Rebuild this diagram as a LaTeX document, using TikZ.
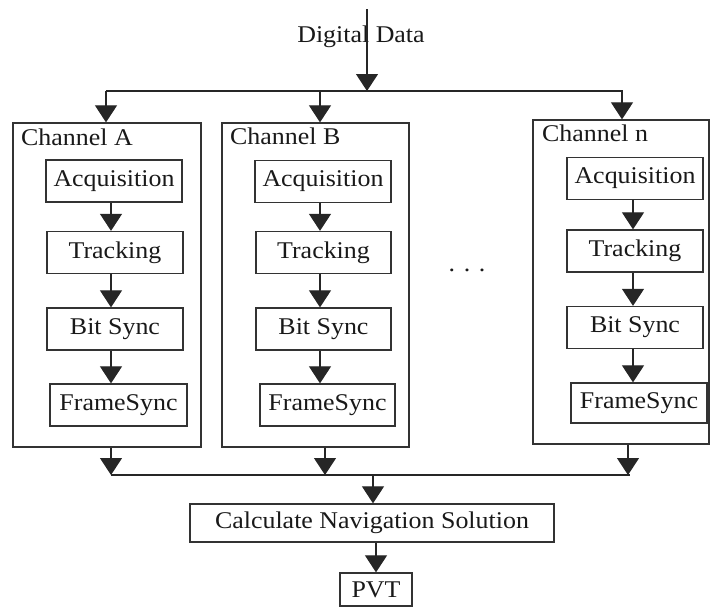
\documentclass[tikz,border=0pt]{standalone}
\usepackage{fontspec}
\setmainfont{Liberation Serif}[FakeStretch=1.08]
\usetikzlibrary{arrows.meta}
\newcommand\diagfont{\fontsize{24}{28}\selectfont}
\begin{document}
\begin{tikzpicture}[x=1pt,y=-1pt,
  wire/.style={draw=black!85, line width=1.2pt},
  arr/.style={wire, -{Triangle[width=22pt,length=17pt]}},
  chanbox/.style={draw=black!80, line width=1.3pt, inner sep=0pt},
  stage/.style={draw=black!80, line width=1.3pt, inner sep=0pt,
                minimum width=136pt, minimum height=42pt,
                font=\diagfont, text=black!90},
  caption/.style={font=\diagfont, text=black!90, inner sep=0pt},
]
\useasboundingbox (0,0) rectangle (712,608);

% input
\node[caption] (ddata) at (361,37) {Digital Data};
\coordinate (src) at (367,9);
\coordinate (tbc) at (367,91);
\draw[arr] (src) -- (tbc);

% distribution bus
\coordinate (tb1) at (106,91);
\coordinate (tb2) at (320,91);
\coordinate (tbn) at (622,91);
\draw[wire] (tb1) -- (623,91);

% channel frames
\node[chanbox, minimum width=188pt, minimum height=324pt] (chA) at (107,285) {};
\node[chanbox, minimum width=187pt, minimum height=324pt] (chB) at (315.5,285) {};
\node[chanbox, minimum width=176pt, minimum height=324pt] (chN) at (621,282) {};

\node[caption, anchor=base west] (tA) at (21,145) {Channel A};
\node[caption, anchor=base west] (tB) at (230,144) {Channel B};
\node[caption, anchor=base west] (tN) at (542,141) {Channel n};

\draw[arr] (tb1) -- (tb1 |- chA.north);
\draw[arr] (tb2) -- (tb2 |- chB.north);
\draw[arr] (tbn) -- (tbn |- chN.north);

% channel A stages
\coordinate (colA) at (111,0);
\node[stage] (acqA) at (114,181) {Acquisition};
\node[stage] (trkA) at (115,252.5) {Tracking};
\node[stage] (bitA) at (115,329) {Bit Sync};
\node[stage, minimum width=137pt] (frmA) at (118.5,405) {FrameSync};
\draw[arr] (acqA.south -| colA) -- (trkA.north -| colA);
\draw[arr] (trkA.south -| colA) -- (bitA.north -| colA);
\draw[arr] (bitA.south -| colA) -- (frmA.north -| colA);

% channel B stages
\coordinate (colB) at (320,0);
\node[stage] (acqB) at (323,181.5) {Acquisition};
\node[stage, minimum width=135pt] (trkB) at (323.5,252.5) {Tracking};
\node[stage, minimum width=135pt] (bitB) at (323.5,329) {Bit Sync};
\node[stage, minimum width=135pt] (frmB) at (327.5,405) {FrameSync};
\draw[arr] (acqB.south -| colB) -- (trkB.north -| colB);
\draw[arr] (trkB.south -| colB) -- (bitB.north -| colB);
\draw[arr] (bitB.south -| colB) -- (frmB.north -| colB);

% channel n stages
\coordinate (colN) at (633,0);
\node[stage] (acqN) at (635,178.5) {Acquisition};
\node[stage] (trkN) at (635,251) {Tracking};
\node[stage] (bitN) at (635,327.5) {Bit Sync};
\node[stage, minimum height=40pt] (frmN) at (639,403) {FrameSync};
\draw[arr] (acqN.south -| colN) -- (trkN.north -| colN);
\draw[arr] (trkN.south -| colN) -- (bitN.north -| colN);
\draw[arr] (bitN.south -| colN) -- (frmN.north -| colN);

% ellipsis between channels
\node[caption, anchor=base] (dots) at (467,271) {. . .};

% collection bus
\coordinate (bb1) at (111,475);
\coordinate (bb2) at (325,475);
\coordinate (bbn) at (628,475);
\coordinate (bbc) at (373,475);
\draw[arr] (chA.south -| bb1) -- (bb1);
\draw[arr] (chB.south -| bb2) -- (bb2);
\draw[arr] (chN.south -| bbn) -- (bbn);
\draw[wire] (bb1) -- (630,475);

% solution and output
\node[stage, minimum width=364pt, minimum height=38pt] (calc) at (372,523) {Calculate Navigation Solution};
\node[stage, minimum width=72pt, minimum height=33pt] (pvt) at (376,589.5) {PVT};
\draw[arr] (bbc) -- (bbc |- calc.north);
\draw[arr] (calc.south -| pvt) -- (pvt.north);
\end{tikzpicture}
\end{document}
